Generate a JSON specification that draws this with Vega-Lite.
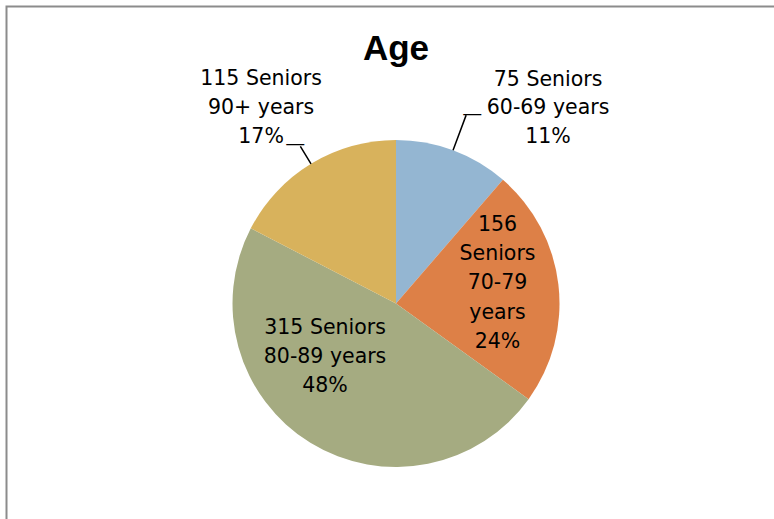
{
  "$schema": "https://vega.github.io/schema/vega-lite/v6.json",
  "width": 779,
  "height": 594,
  "autosize": {"type": "none"},
  "padding": {"left": 6.5, "top": 6.5, "right": 0, "bottom": 0},
  "background": "white",
  "view": {"stroke": "#8c8c8c", "strokeWidth": 2, "fill": "white"},
  "config": {"view": {"stroke": "#8c8c8c", "strokeWidth": 2}},
  "title": {
    "text": "Age",
    "font": "Liberation Sans",
    "fontSize": 35,
    "fontWeight": "bold",
    "color": "black",
    "anchor": "middle",
    "frame": "group",
    "baseline": "alphabetic",
    "offset": 0,
    "dy": 88
  },
  "data": {
    "values": [
      {"age": "60-69", "count": 75, "label": "75 Seniors\n60-69 years\n11%"},
      {"age": "70-79", "count": 156, "label": "156\nSeniors\n70-79\nyears\n24%"},
      {"age": "80-89", "count": 315, "label": "315 Seniors\n80-89 years\n48%"},
      {"age": "90+", "count": 115, "label": "115 Seniors\n90+ years\n17%"}
    ]
  },
  "encoding": {
    "theta": {"field": "count", "type": "quantitative", "stack": true},
    "order": {"field": "age", "type": "ordinal", "sort": "ascending"}
  },
  "layer": [
    {
      "mark": {"type": "arc", "outerRadius": 163.5},
      "encoding": {
        "color": {
          "field": "age",
          "type": "nominal",
          "scale": {"domain": ["60-69", "70-79", "80-89", "90+"], "range": ["#94B6D2", "#DD8047", "#A5AB81", "#D8B25C"]},
          "legend": null
        }
      }
    },
    {
      "mark": {"type": "arc", "innerRadius": 163.5, "outerRadius": 201, "padAngle": 3.14159, "fill": "transparent", "strokeWidth": 1.5},
      "encoding": {
        "detail": {"field": "age", "type": "nominal"},
        "stroke": {"condition": {"test": "datum.age == '60-69'", "value": "black"}, "value": "transparent"}
      }
    },
    {
      "mark": {"type": "arc", "innerRadius": 163.5, "outerRadius": 184, "padAngle": 3.14159, "fill": "transparent", "strokeWidth": 1.5},
      "encoding": {
        "detail": {"field": "age", "type": "nominal"},
        "stroke": {"condition": {"test": "datum.age == '90+'", "value": "black"}, "value": "transparent"}
      }
    },
    {
      "mark": {"type": "text", "radius": 201, "dx": 6, "dy": -1, "font": "DejaVu Sans", "fontSize": 20, "color": "black", "baseline": "middle", "align": "center"},
      "encoding": {
        "detail": {"field": "age", "type": "nominal"},
        "text": {"condition": {"test": "datum.age == '60-69'", "value": "—"}, "value": ""}
      }
    },
    {
      "mark": {"type": "text", "radius": 184, "dx": -5, "dy": -2, "font": "DejaVu Sans", "fontSize": 20, "color": "black", "baseline": "middle", "align": "center"},
      "encoding": {
        "detail": {"field": "age", "type": "nominal"},
        "text": {"condition": {"test": "datum.age == '90+'", "value": "—"}, "value": ""}
      }
    },
    {
      "mark": {"type": "text", "radius": 206.5, "dx": 80, "dy": -30, "font": "DejaVu Sans", "fontSize": 20.5, "lineHeight": 28.5, "lineBreak": "\n", "color": "black", "baseline": "middle", "align": "center"},
      "encoding": {
        "detail": {"field": "age", "type": "nominal"},
        "text": {"condition": {"test": "datum.age == '60-69'", "field": "label"}, "value": ""}
      }
    },
    {
      "mark": {"type": "text", "radius": 102.2, "dx": 0, "dy": -67, "font": "DejaVu Sans", "fontSize": 20.5, "lineHeight": 29.3, "lineBreak": "\n", "color": "black", "baseline": "middle", "align": "center"},
      "encoding": {
        "detail": {"field": "age", "type": "nominal"},
        "text": {"condition": {"test": "datum.age == '70-79'", "field": "label"}, "value": ""}
      }
    },
    {
      "mark": {"type": "text", "radius": 82, "dx": -28, "dy": -45, "font": "DejaVu Sans", "fontSize": 20.5, "lineHeight": 29, "lineBreak": "\n", "color": "black", "baseline": "middle", "align": "center"},
      "encoding": {
        "detail": {"field": "age", "type": "nominal"},
        "text": {"condition": {"test": "datum.age == '80-89'", "field": "label"}, "value": ""}
      }
    },
    {
      "mark": {"type": "text", "radius": 228.8, "dx": -16, "dy": -29, "font": "DejaVu Sans", "fontSize": 20.5, "lineHeight": 29, "lineBreak": "\n", "color": "black", "baseline": "middle", "align": "center"},
      "encoding": {
        "detail": {"field": "age", "type": "nominal"},
        "text": {"condition": {"test": "datum.age == '90+'", "field": "label"}, "value": ""}
      }
    }
  ]
}
